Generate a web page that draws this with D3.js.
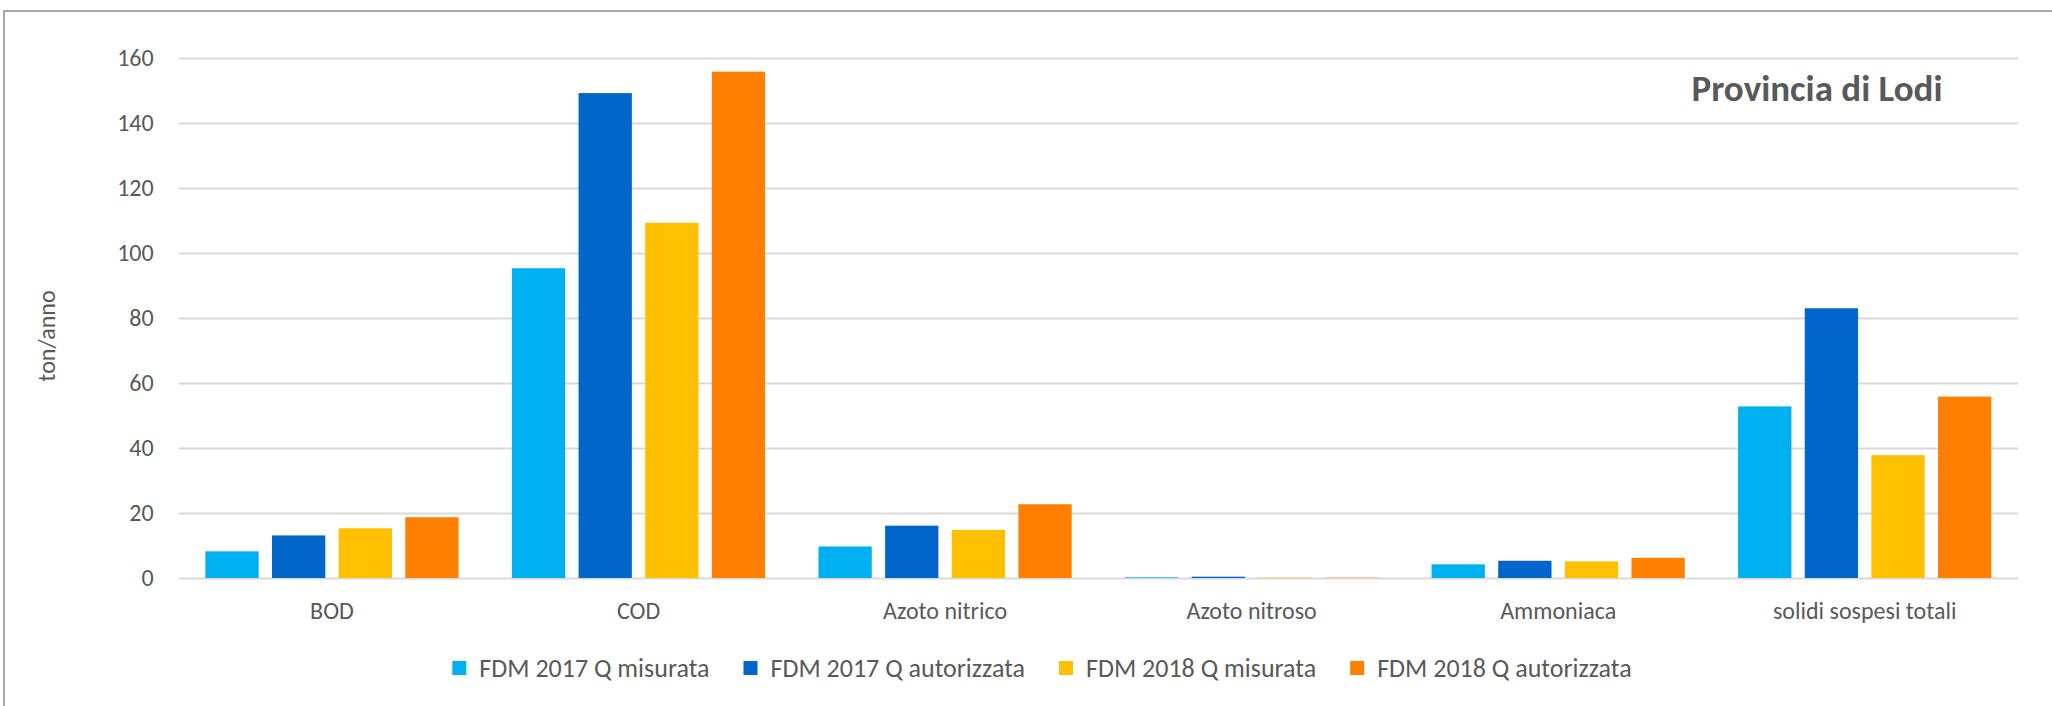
<!DOCTYPE html>
<html lang="it">
<head>
<meta charset="utf-8" />
<script src="https://d3js.org/d3.v7.min.js"></script>
<style>
  html, body { margin: 0; padding: 0; background: #fff; }
  svg text { font-family: Calibri, Carlito, Lato, sans-serif; fill: #595959; }
</style>
</head>
<body>
<svg id="canvas" width="2052" height="706"></svg>
<script>
// categorie e serie (ton/anno)
var categories = ["BOD", "COD", "Azoto nitrico", "Azoto nitroso", "Ammoniaca", "solidi sospesi totali"];
var seriesNames = ["FDM 2017 Q misurata", "FDM 2017 Q autorizzata", "FDM 2018 Q misurata", "FDM 2018 Q autorizzata"];
var fdm2017Misurata    = [8.2, 95.3, 9.7, 0.2, 4.2, 52.8];
var fdm2017Autorizzata = [13.1, 149.2, 16.1, 0.4, 5.3, 83.0];
var fdm2018Misurata    = [15.3, 109.3, 14.8, 0.1, 5.1, 37.8];
var fdm2018Autorizzata = [18.7, 155.8, 22.7, 0.1, 6.2, 55.8];
var yTicks = [0, 20, 40, 60, 80, 100, 120, 140, 160];
var colors = ["#00B0F0", "#0066CC", "#FFC000", "#FF8000"];

var allSeries = [fdm2017Misurata, fdm2017Autorizzata, fdm2018Misurata, fdm2018Autorizzata];

var svg = d3.select("#canvas");

// cornice esterna (tagliata a destra e in basso)
svg.append("rect")
  .attr("x", 4).attr("y", 11)
  .attr("width", 2200).attr("height", 900)
  .attr("fill", "none")
  .attr("stroke", "#8c8c8c")
  .attr("stroke-width", 1.5);

var plotLeft = 178.7, plotRight = 2018, plotTop = 58, plotBottom = 578;

var y = d3.scaleLinear().domain([0, 160]).range([plotBottom, plotTop]);
var x0 = d3.scaleBand().domain(categories).range([plotLeft, plotRight]).padding(0);
var x1 = d3.scaleBand().domain(d3.range(seriesNames.length))
  .range([0, x0.bandwidth()]).paddingInner(0.2).paddingOuter(0.4);

// griglia + etichette asse y
var yAxis = svg.append("g")
  .attr("transform", "translate(" + plotLeft + ",0)")
  .call(d3.axisLeft(y).tickValues(yTicks).tickSize(-(plotRight - plotLeft)).tickPadding(25));
yAxis.select(".domain").remove();
yAxis.selectAll(".tick line").attr("stroke", "#d9d9d9").attr("stroke-width", 2);
yAxis.selectAll(".tick text")
  .style("font-size", "24px")
  .attr("fill", "#595959");

// barre
var groups = svg.append("g").selectAll("g")
  .data(categories)
  .join("g")
  .attr("transform", function(d) { return "translate(" + x0(d) + ",0)"; });

groups.selectAll("rect")
  .data(function(d, i) { return allSeries.map(function(s, k) { return {k: k, v: s[i]}; }); })
  .join("rect")
  .attr("x", function(d) { return x1(d.k); })
  .attr("width", x1.bandwidth())
  .attr("y", function(d) { return y(d.v); })
  .attr("height", function(d) { return plotBottom - y(d.v); })
  .attr("fill", function(d) { return colors[d.k]; });

// asse x (etichette categorie)
var xAxis = svg.append("g")
  .attr("transform", "translate(0," + plotBottom + ")")
  .call(d3.axisBottom(x0).tickSize(0).tickPadding(24));
xAxis.select(".domain").remove();
xAxis.selectAll(".tick text").style("font-size", "24px").attr("fill", "#595959");

// titolo asse y
svg.append("text")
  .attr("transform", "translate(55,336) rotate(-90)")
  .attr("text-anchor", "middle")
  .style("font-size", "24px")
  .text("ton/anno");

// titolo
svg.append("text")
  .attr("x", 1817).attr("y", 101)
  .attr("text-anchor", "middle")
  .style("font-size", "37px")
  .style("font-weight", "bold")
  .text("Provincia di Lodi");

// legenda
var legend = svg.append("g");
var items = legend.selectAll("g").data(seriesNames).join("g");
items.append("rect")
  .attr("width", 14).attr("height", 14)
  .attr("y", 661)
  .attr("fill", function(d, i) { return colors[i]; });
items.append("text")
  .attr("x", 27).attr("y", 677)
  .style("font-size", "26px")
  .text(function(d) { return d; });

var cursor = 0;
items.each(function() {
  var w = d3.select(this).select("text").node().getComputedTextLength();
  d3.select(this).attr("data-x", cursor);
  cursor += 27 + w + 34;
});
var total = cursor - 34;
var startX = 1042 - total / 2;
items.attr("transform", function() { return "translate(" + (startX + (+this.getAttribute("data-x"))) + ",0)"; });
</script>
</body>
</html>
